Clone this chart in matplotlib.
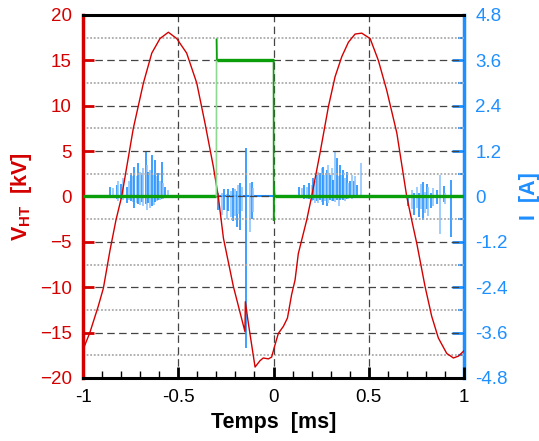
import matplotlib
matplotlib.use('Agg')
import matplotlib.pyplot as plt
from matplotlib.collections import LineCollection
import numpy as np

plt.rcParams['font.family'] = ['Liberation Sans', 'DejaVu Sans']
plt.rcParams['mathtext.fontset'] = 'custom'
plt.rcParams['mathtext.bf'] = 'Liberation Sans:bold'
plt.rcParams['mathtext.rm'] = 'Liberation Sans'

# --- data ---
# V_HT (kV) vs time (ms)
red_t = [-1.0, -0.964, -0.92, -0.893, -0.858, -0.827, -0.797, -0.736, -0.683, -0.639,
         -0.596, -0.552, -0.508, -0.456, -0.403, -0.36, -0.316, -0.29, -0.263, -0.211,
         -0.15, -0.148, -0.132, -0.097, -0.071, -0.054, -0.027, -0.01, 0.003, 0.025,
         0.052, 0.073, 0.095, 0.113, 0.13, 0.174, 0.2, 0.244, 0.288, 0.323,
         0.358, 0.393, 0.428, 0.463, 0.507, 0.55, 0.594, 0.647, 0.699, 0.725,
         0.752, 0.795, 0.83, 0.865, 0.909, 0.944, 0.97, 1.0]
red_v = [-16.9, -15.0, -12.1, -10.1, -5.9, -2.6, 0.0, 7.5, 12.5, 15.8,
         17.4, 18.1, 17.4, 15.8, 12.5, 8.1, 3.3, 0.0, -4.6, -9.9,
         -14.9, -11.6, -14.0, -18.8, -18.1, -17.8, -17.9, -17.7, -16.7, -15.1,
         -14.3, -13.4, -10.8, -9.2, -6.3, -2.6, 0.0, 4.8, 9.9, 13.2,
         15.4, 17.0, 17.9, 18.0, 17.4, 15.0, 11.7, 7.0, 0.0, -2.6,
         -5.2, -9.9, -13.2, -15.6, -17.3, -17.8, -17.6, -17.0]

# green trace (kV scale)
green_t = [-1.0, -0.300, -0.299, -0.297, 0.0, 0.001, 0.003, 0.006, 1.0]
green_v = [0.0, 0.0, 17.4, 15.0, 15.0, -2.7, 1.2, 0.0, 0.0]

# current I (A): spike times, upper and lower excursions
i_t = [-0.858, -0.84, -0.823, -0.815, -0.80, -0.789, -0.77, -0.757, -0.75, -0.739,
       -0.73, -0.718, -0.709, -0.70, -0.692, -0.683, -0.671, -0.666, -0.657, -0.648,
       -0.639, -0.63, -0.621, -0.613, -0.604, -0.596, -0.587, -0.578, -0.57, -0.552,
       -0.29, -0.272, -0.26, -0.246, -0.237, -0.225, -0.214, -0.202, -0.193, -0.185,
       -0.176, -0.167, -0.144, -0.123, -0.115, -0.106,
       0.134, 0.148, 0.162, 0.174, 0.187, 0.20, 0.209, 0.218, 0.227, 0.235,
       0.244, 0.253, 0.262, 0.27, 0.279, 0.288, 0.297, 0.305, 0.314, 0.323,
       0.332, 0.341, 0.35, 0.358, 0.367, 0.376, 0.385, 0.393, 0.402, 0.411,
       0.42, 0.428, 0.437, 0.46,
       0.708, 0.725, 0.739, 0.752, 0.764, 0.775, 0.786, 0.795, 0.804, 0.813,
       0.827, 0.839, 0.857, 0.874, 0.892, 0.90, 0.932]
i_hi = [0.26, 0.22, 0.31, 0.40, 0.33, 0.49, 0.26, 0.40, 0.62, 0.53,
        0.79, 0.53, 0.88, 0.66, 0.57, 0.75, 1.19, 0.84, 0.66, 0.71,
        1.10, 0.57, 0.97, 0.53, 0.62, 0.40, 0.92, 0.35, 0.26, 0.18,
        0.08, 0.10, 0.19, 0.06, 0.19, 0.15, 0.22, 0.19, 0.15, 0.30,
        0.35, 0.26, 1.27, 0.35, 0.37, 0.22,
        0.26, 0.22, 0.31, 0.26, 0.35, 0.31, 0.49, 0.40, 0.57, 0.66,
        0.62, 0.75, 0.79, 0.57, 0.71, 0.84, 0.57, 0.75, 0.44, 1.17,
        1.01, 0.53, 0.84, 0.57, 0.71, 0.49, 0.66, 0.35, 0.40, 0.57,
        0.40, 0.53, 0.31, 0.88,
        0.05, 0.17, 0.08, 0.26, 0.10, 0.34, 0.39, 0.12, 0.34, 0.26,
        0.10, 0.22, 0.17, 0.56, 0.29, 0.08, 0.44]
i_lo = [-0.05, -0.05, -0.08, -0.13, -0.08, -0.10, -0.17, -0.10, -0.12, -0.15,
        -0.31, -0.17, -0.20, -0.22, -0.15, -0.26, -0.20, -0.35, -0.18, -0.31,
        -0.25, -0.22, -0.15, -0.12, -0.10, -0.10, -0.08, -0.06, -0.05, -0.04,
        -0.35, -0.49, -0.35, -0.60, -0.39, -0.55, -0.66, -0.51, -0.80, -0.47,
        -0.89, -0.38, -4.0, -0.93, -0.60, -0.42,
        -0.05, -0.05, -0.08, -0.06, -0.08, -0.13, -0.10, -0.17, -0.12, -0.17,
        -0.10, -0.15, -0.22, -0.12, -0.26, -0.17, -0.10, -0.12, -0.13, -0.15,
        -0.10, -0.26, -0.10, -0.08, -0.10, -0.13, -0.06, -0.06, -0.05, -0.06,
        -0.05, -0.05, -0.04, -0.04,
        -0.24, -0.32, -0.50, -0.30, -0.55, -0.34, -0.63, -0.43, -0.34, -0.52,
        -0.30, -0.25, -0.20, -0.99, -0.15, -0.20, -1.08]
i_base_t = [-1.0, 1.0]
i_base_v = [0.0, 0.0]

v_ticks = [-20, -15, -10, -5, 0, 5, 10, 15, 20]
i_ticks = [-4.8, -3.6, -2.4, -1.2, 0, 1.2, 2.4, 3.6, 4.8]
i_ticklabels = ['-4.8', '-3.6', '-2.4', '-1.2', '0', '1.2', '2.4', '3.6', '4.8']
t_ticks = [-1, -0.5, 0, 0.5, 1]
t_ticklabels = ['-1', '-0.5', '0', '0.5', '1']

RED = '#d40000'
BLUE = '#1e8fff'
GREEN = '#0a9e0a'

fig = plt.figure(figsize=(5.39, 4.41), dpi=100)
ax = fig.add_axes([0.154, 0.143, 0.707, 0.823])
ax2 = ax.twinx()
ax.set_zorder(ax2.get_zorder() + 1)
ax.patch.set_visible(False)

# current on the right axis (drawn underneath)
ax2.plot(i_base_t, i_base_v, color=BLUE, lw=1.5)
cols = [BLUE if k % 2 == 0 else '#8ec5ff' for k in range(len(i_t))]
ax2.vlines(i_t, i_lo, i_hi, colors=cols, lw=1.2)
ax2.set_ylim(-4.8, 4.8)
ax2.set_yticks(i_ticks)
ax2.set_yticklabels(i_ticklabels)
ax2.set_yticks(np.arange(-4.2, 4.8, 1.2), minor=True)

# grid
for v in v_ticks[1:-1]:
    ax.axhline(v, color='#444444', lw=0.9, ls=(0, (6, 3.5)), zorder=1)
for v in np.arange(-17.5, 20, 5):
    ax.axhline(v, color='#aaaaaa', lw=1.3, ls=(0, (1, 1)), zorder=1)
for t in [-0.5, 0, 0.5]:
    ax.axvline(t, color='#444444', lw=0.9, ls=(0, (6, 3.5)), zorder=1)

# voltage
ax.plot(red_t, red_v, color=RED, lw=1.0, zorder=3)

# green trace: flat parts thick, fast edges thin
segs = []
widths = []
gcols = []
for k in range(len(green_t) - 1):
    segs.append([(green_t[k], green_v[k]), (green_t[k + 1], green_v[k + 1])])
    steep = abs(green_t[k + 1] - green_t[k]) < 0.01
    widths.append(1.2 if steep else 2.4)
    gcols.append('#8fd88f' if (steep and k == 1) else GREEN)
ax.add_collection(LineCollection(segs, linewidths=widths, colors=gcols, zorder=4))

ax.set_xlim(-1, 1)
ax.set_ylim(-20, 20)
ax.set_yticks(v_ticks)
ax.set_xticks(t_ticks)
ax.set_xticklabels(t_ticklabels)
ax.set_xticks(np.arange(-0.9, 1.0, 0.1), minor=True)

# spines
ax.spines['left'].set_color(RED)
ax.spines['left'].set_linewidth(2.5)
ax.spines['right'].set_visible(False)
ax.spines['top'].set_linewidth(2.2)
ax.spines['bottom'].set_linewidth(2.2)
for s in ['left', 'top', 'bottom']:
    ax2.spines[s].set_visible(False)
ax2.spines['right'].set_color(BLUE)
ax2.spines['right'].set_linewidth(2.5)

ax.tick_params(axis='y', which='major', direction='in', length=8, width=2,
               colors=RED, labelsize=13.5, pad=8)
ax.tick_params(axis='x', which='major', direction='in', length=8, width=2,
               labelsize=13.5, pad=8, top=False)
ax.tick_params(axis='x', which='minor', direction='in', length=5, width=1, top=False)
ax2.tick_params(axis='y', which='major', direction='in', length=9, width=2,
                colors=BLUE, labelsize=13.5, pad=8)
ax2.tick_params(axis='y', which='minor', direction='in', length=4, width=1.5, colors=BLUE)

ax.set_xlabel('Temps  [ms]', fontsize=15.5, fontweight='bold', labelpad=4)
ax.set_ylabel(r'$\mathbf{V_{HT}}$  [kV]', fontsize=15.5, fontweight='bold', color=RED, labelpad=4)
ax2.set_ylabel('I  [A]', fontsize=15.5, fontweight='bold', color=BLUE, labelpad=8)

fig.savefig('out.png', dpi=100)
